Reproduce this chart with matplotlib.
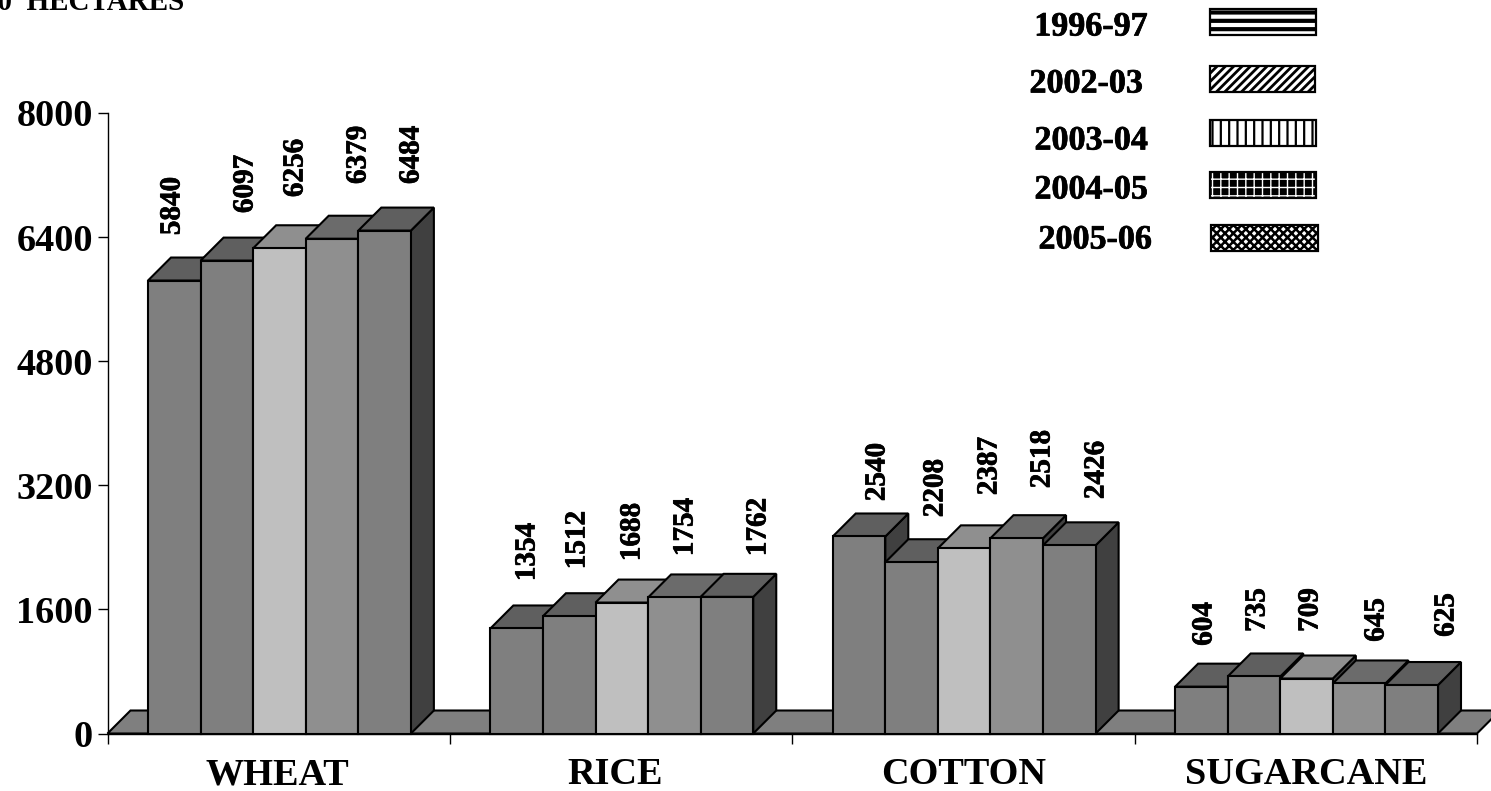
import matplotlib
matplotlib.use("Agg")
import matplotlib.pyplot as plt
import matplotlib.patheffects as pe
from matplotlib.patches import Polygon, Rectangle

plt.rcParams['font.family'] = ['Liberation Serif', 'DejaVu Serif']
plt.rcParams['font.weight'] = 'bold'

crops = ["WHEAT", "RICE", "COTTON", "SUGARCANE"]
seasons = ["1996-97", "2002-03", "2003-04", "2004-05", "2005-06"]
v_1996 = [5840, 1354, 2540, 604]
v_2002 = [6097, 1512, 2208, 735]
v_2003 = [6256, 1688, 2387, 709]
v_2004 = [6379, 1754, 2518, 645]
v_2005 = [6484, 1762, 2426, 625]
y_ticks = [0, 1600, 3200, 4800, 6400, 8000]

W, H = 1491, 791
front = ["#7f7f7f", "#7f7f7f", "#bfbfbf", "#8f8f8f", "#7f7f7f"]
top = ["#5f5f5f", "#5f5f5f", "#8f8f8f", "#6b6b6b", "#5f5f5f"]
side = "#404040"

# hatch, hatch colour, background, hatch width for the legend boxes
hatches = ["--", "////", "||", "++", "xxxx"]
hatch_col = ["black", "black", "black", "white", "black"]
hatch_bg = ["white", "white", "white", "black", "white"]
hatch_lw = [3.0, 2.0, 1.6, 1.0, 1.8]

# hand placed labels from the original, centre in pixels
label_px = [
    [(172, 206), (527, 552), (877, 472), (1204, 624)],
    [(245, 184), (577, 540), (935, 488), (1257, 610)],
    [(295, 168), (632, 532), (989, 466), (1310, 610)],
    [(358, 155), (685, 527), (1042, 459), (1376, 620)],
    [(411, 155), (758, 527), (1096, 470), (1446, 615)],
]
legend_text_px = [(1091, 27), (1086, 84), (1091, 141), (1091, 190), (1095, 240)]
legend_box_px = [(1210, 9, 106, 26), (1210, 66, 105, 26), (1210, 120, 106, 26),
                 (1210, 172, 106, 26), (1211, 225, 107, 26)]
crop_pos = [0.497, 1.484, 2.5, 3.5]


def fx(px):
    return px / W


def fy(py):
    return 1 - py / H


fig = plt.figure(figsize=(W / 100, H / 100), dpi=100)
ax = fig.add_axes([fx(107.5), fy(733.5), fx(1477 - 107.5), (733.5 - 113) / H])
ax.set_xlim(0, 4)
ax.set_ylim(0, 8000)

bar_w = 52.6 / 342.5
start = 40.5 / 342.5
dx = 23 / 342.5
dy = 23 * 8000 / 620.5
edge = dict(edgecolor="black", linewidth=1.5, clip_on=False, joinstyle="miter")
heavy = [pe.withStroke(linewidth=0.5, foreground="black")]

# floor
ax.add_patch(Polygon([(0, 0), (dx, dy), (4 + dx, dy), (4, 0)], closed=True,
                     facecolor="#7f7f7f", zorder=1, **edge))

series = [v_1996, v_2002, v_2003, v_2004, v_2005]
z = 2
for c in range(len(crops)):
    for s, values in enumerate(series):
        x0 = c + start + s * bar_w
        x1 = x0 + bar_w
        v = values[c]
        ax.add_patch(Polygon([(x1, 0), (x1 + dx, dy), (x1 + dx, v + dy), (x1, v)],
                             closed=True, facecolor=side, zorder=z, **edge))
        ax.add_patch(Polygon([(x0, v), (x0 + dx, v + dy), (x1 + dx, v + dy), (x1, v)],
                             closed=True, facecolor=top[s], zorder=z, **edge))
        ax.add_patch(Rectangle((x0, 0), bar_w, v, facecolor=front[s], zorder=z + 0.5, **edge))
        z += 1
        lx, ly = label_px[s][c]
        fig.text(fx(lx), fy(ly), str(v), rotation=90, ha="center", va="center",
                 fontsize=21, path_effects=heavy)

for side_name in ["top", "right"]:
    ax.spines[side_name].set_visible(False)
for side_name in ["left", "bottom"]:
    ax.spines[side_name].set_linewidth(1.0)
    ax.spines[side_name].set_zorder(100)

ax.set_yticks(y_ticks)
ax.set_yticklabels([str(t) for t in y_ticks], fontsize=27.5, fontweight="bold")
ax.set_xticks(range(5))
ax.set_xticklabels([])
ax.set_xticks(crop_pos, minor=True)
ax.set_xticklabels(crops, minor=True, fontsize=27.5, fontweight="bold")
ax.tick_params(axis="y", length=7.5, width=1.0, pad=3)
ax.tick_params(axis="x", which="major", length=7.5, width=1.0)
ax.tick_params(axis="x", which="minor", length=0, pad=17)

fig.text(fx(184), fy(10), "'000  HECTARES", ha="right", va="baseline", fontsize=21)

# legend is drawn by hand, it sits loose in the top right corner
for i, name in enumerate(seasons):
    pos = legend_text_px[i]
    box = legend_box_px[i]
    fig.text(fx(pos[0]), fy(pos[1]), name, ha="center", va="center", fontsize=24.5,
             path_effects=heavy)
    corner = (fx(box[0]), fy(box[1] + box[3]))
    plt.rcParams['hatch.linewidth'] = hatch_lw[i]
    fig.add_artist(Rectangle(corner, box[2] / W, box[3] / H, transform=fig.transFigure,
                             facecolor=hatch_bg[i], edgecolor=hatch_col[i], linewidth=0,
                             hatch=hatches[i]))
    fig.add_artist(Rectangle(corner, box[2] / W, box[3] / H, transform=fig.transFigure,
                             facecolor="none", edgecolor="black", linewidth=1.6))

fig.savefig("out.png", dpi=100)
